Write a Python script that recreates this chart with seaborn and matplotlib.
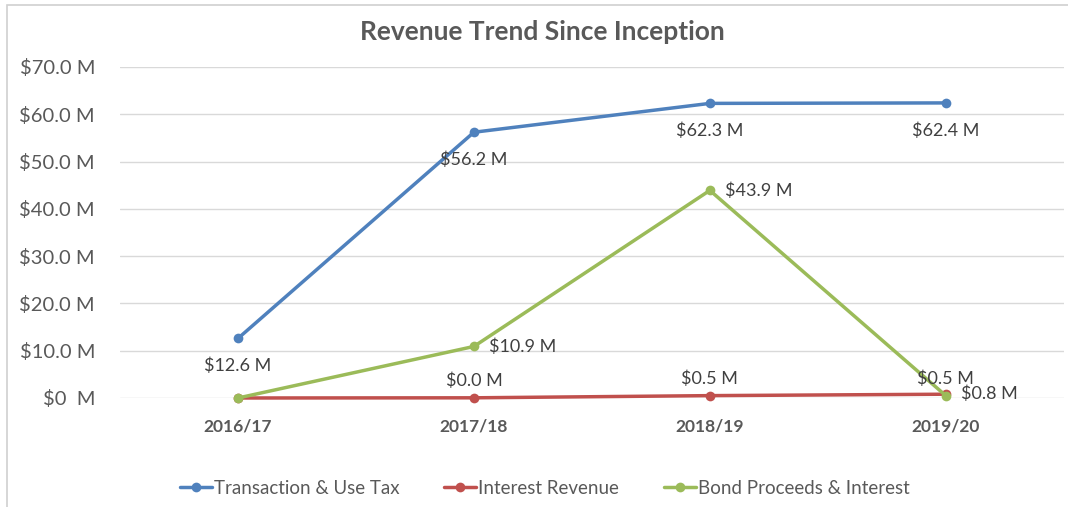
import pandas as pd
import matplotlib.pyplot as plt
import seaborn as sns
from matplotlib.patches import Rectangle

# --- data ---
years = ["2016/17", "2017/18", "2018/19", "2019/20"]
series_names = ["Transaction & Use Tax", "Interest Revenue", "Bond Proceeds & Interest"]
tax = [12.6, 56.2, 62.3, 62.4]
interest = [0.0, 0.04, 0.5, 0.8]
bond = [0.0, 10.9, 43.9, 0.5]
y_ticks = [0, 10, 20, 30, 40, 50, 60, 70]

colors = ["#4F81BD", "#C0504D", "#9BBB59"]

# label placement per series/point (None = no label)
label_pos = {
    "Transaction & Use Tax": ["below", "below", "below", "below"],
    "Interest Revenue": [None, "above", "above", "right"],
    "Bond Proceeds & Interest": [None, "right", "right", "above"],
}

rows = []
for name, vals in zip(series_names, [tax, interest, bond]):
    for yr, v in zip(years, vals):
        rows.append({"Year": yr, "Series": name, "Value": v})
df = pd.DataFrame(rows)

sns.set_style("white")
plt.rcParams["font.family"] = ["Lato", "DejaVu Sans"]

fig = plt.figure(figsize=(10.68, 5.07), dpi=100)
ax = fig.add_axes([0.1124, 0.215, 0.8836, 0.6529])

sns.lineplot(data=df, x="Year", y="Value", hue="Series", palette=colors,
             marker="o", markersize=7, markeredgewidth=0, linewidth=2.5,
             ax=ax, sort=False, legend=True)
for ln in ax.lines:
    ln.set_clip_on(False)

ax.set_xlim(-0.5, 3.5)
ax.set_ylim(0, 70)
ax.set_yticks(y_ticks)
ax.set_yticklabels(["$0  M" if t == 0 else f"${t:.1f} M" for t in y_ticks])
ax.grid(axis="y", color="#D9D9D9", linewidth=1)
ax.set_axisbelow(True)
for s in ax.spines.values():
    s.set_visible(False)
ax.set_xlabel("")
ax.set_ylabel("")
ax.tick_params(axis="y", length=0, pad=18, labelsize=14.5, labelcolor="#595959")
ax.tick_params(axis="x", length=0, pad=15, labelsize=12.5, labelcolor="#595959")
for lbl in ax.get_xticklabels():
    lbl.set_fontweight("bold")

# data labels
for name, vals in zip(series_names, [tax, interest, bond]):
    for i, v in enumerate(vals):
        pos = label_pos[name][i]
        if pos is None:
            continue
        txt = f"${v:.1f} M"
        if pos == "below":
            ax.annotate(txt, (i, v), xytext=(0, -14), textcoords="offset points",
                        ha="center", va="top", fontsize=13, color="#404040")
        elif pos == "above":
            ax.annotate(txt, (i, v), xytext=(0, 6), textcoords="offset points",
                        ha="center", va="bottom", fontsize=13, color="#404040")
        else:
            ax.annotate(txt, (i, v), xytext=(11, 0), textcoords="offset points",
                        ha="left", va="center", fontsize=13, color="#404040")

ax.legend_.remove()
handles, labels = ax.get_legend_handles_labels()
fig.legend(handles, labels, loc="center", bbox_to_anchor=(0.51, 0.037), ncol=3,
           frameon=False, fontsize=13.5, labelcolor="#595959", handlelength=1.7,
           handletextpad=0.1, columnspacing=2.4)

fig.suptitle("Revenue Trend Since Inception", x=0.508, y=0.96, fontsize=19,
             fontweight="bold", color="#595959")

fig.patches.append(Rectangle((7 / 1068, -0.05), 1.2, 1 - 5 / 507 + 0.05,
                             transform=fig.transFigure, fill=False,
                             edgecolor="#D0D0D0", linewidth=1.2))

fig.savefig("out.png", dpi=100)
